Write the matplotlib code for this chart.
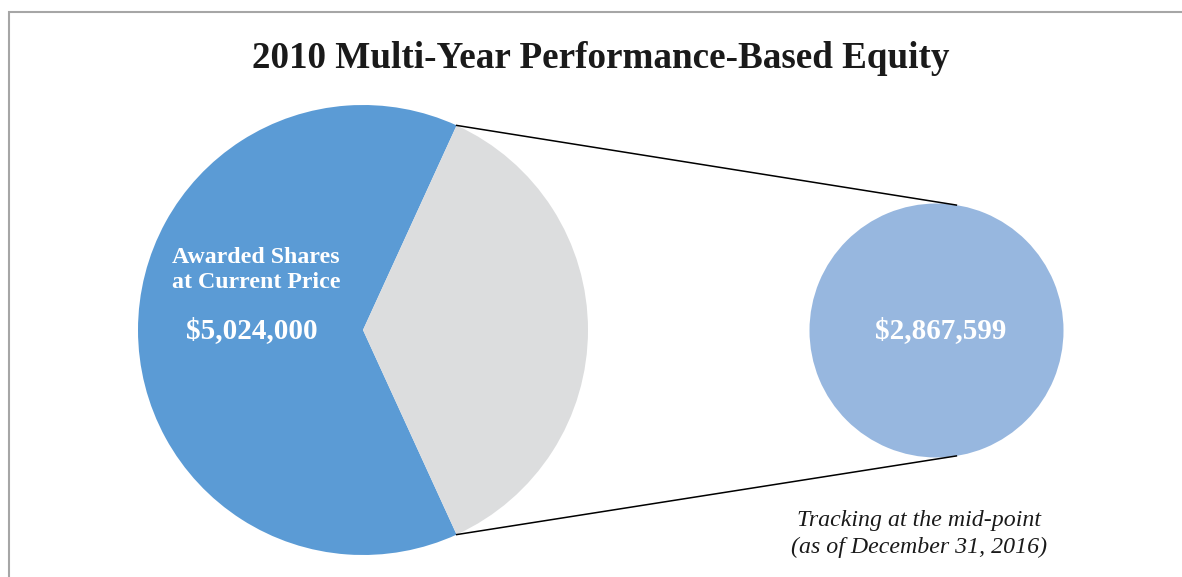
import numpy as np
import matplotlib.pyplot as plt
from matplotlib.patches import Rectangle

# values
labels = ['Awarded Shares\nat Current Price', 'Tracking']
values = [5024000, 2867599]
colors = ['#5B9BD5', '#DCDDDE']
sub_color = '#97B7DF'
title = '2010 Multi-Year Performance-Based Equity'
note = 'Tracking at the mid-point\n(as of December 31, 2016)'

W, H = 1182, 577
fig = plt.figure(figsize=(W / 100, H / 100), dpi=100)
ax = fig.add_axes([0, 0, 1, 1])

serif = ['Liberation Serif', 'DejaVu Serif']

# main pie, grey slice centred on the right
grey_deg = 360.0 * values[1] / sum(values)
c1, r1 = (363, H - 330), 225
ax.pie(values, colors=colors, startangle=grey_deg / 2, counterclock=True,
       center=c1, radius=r1, frame=True, wedgeprops=dict(linewidth=0))

# secondary circle
c2, r2 = (936.5, H - 330.5), 127
ax.pie([values[1]], colors=[sub_color], center=c2, radius=r2, frame=True,
       wedgeprops=dict(linewidth=0))
ax.set_xlim(0, W)
ax.set_ylim(0, H)
ax.set_aspect('equal')
ax.axis('off')

# connector lines
a1 = np.radians(grey_deg / 2)
a2 = np.radians(81)
for s in (1, -1):
    p1 = (c1[0] + r1 * np.cos(a1), c1[1] + s * r1 * np.sin(a1))
    p2 = (c2[0] + r2 * np.cos(a2), c2[1] + s * r2 * np.sin(a2))
    ax.plot([p1[0], p2[0]], [p1[1], p2[1]], color='black', lw=1.1)

# text
ax.text(601, H - 58, title, ha='center', va='center', fontsize=26.7,
        fontweight='bold', family=serif, color='#1a1a1a')
ax.text(256, H - 270, labels[0], ha='center', va='center', fontsize=17.2,
        fontweight='bold', family=serif, color='white', linespacing=1.24)
ax.text(252, H - 331, '${:,}'.format(values[0]), ha='center', va='center',
        fontsize=21, fontweight='bold', family=serif, color='white')
ax.text(941, H - 331, '${:,}'.format(values[1]), ha='center', va='center',
        fontsize=21, fontweight='bold', family=serif, color='white')
ax.text(919, H - 534, note, ha='center', va='center', fontsize=17.2,
        style='italic', family=serif, color='#1a1a1a', linespacing=1.38)

# chart border
ax.add_patch(Rectangle((8.5, -20), 1300, H - 12 + 20, fill=False,
                       edgecolor='#A6A6A6', lw=1.5, clip_on=False))

fig.savefig('out.png', dpi=100)
